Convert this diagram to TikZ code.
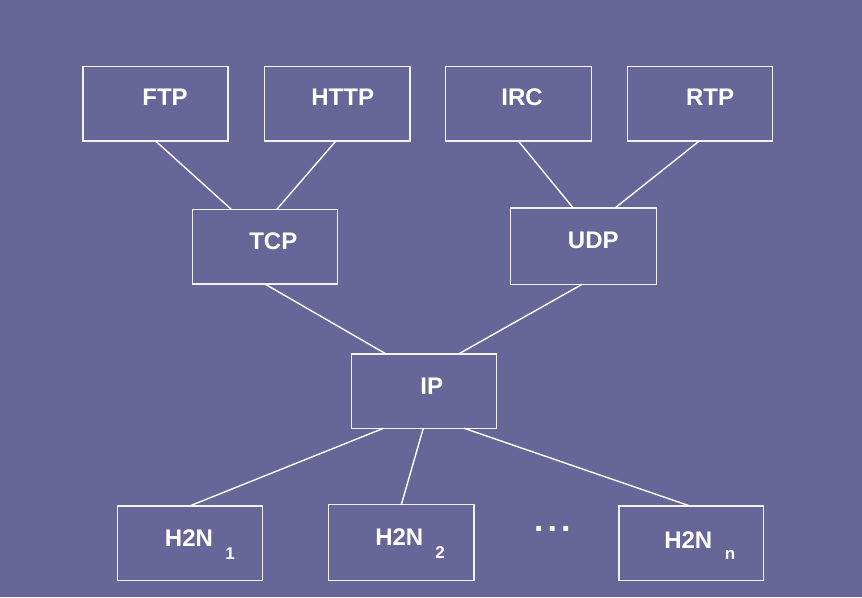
\documentclass[tikz,border=0pt]{standalone}
\usepackage{fontspec}
\setmainfont{Liberation Sans}
\usetikzlibrary{calc}
\definecolor{bgc}{HTML}{666699}
\definecolor{boxc}{HTML}{F2F2F2}
\begin{document}
\begin{tikzpicture}[x=1pt,y=-1pt,
  box/.style={draw=boxc,line width=1.5pt,minimum width=#1,minimum height=74.5pt,inner sep=0pt,outer sep=0pt},
  box/.default=145pt,
  lbl/.style={text=white,font=\fontsize{24}{28}\selectfont\bfseries,inner sep=0pt},
  sub/.style={text=white,font=\fontsize{17}{20}\selectfont\bfseries,inner sep=0pt},
  con/.style={draw=white,line width=1.4pt}]
\fill[bgc] (0,0) rectangle (862,597);
\useasboundingbox (0,0) rectangle (862,597);
% boxes
\node[box] (ftp) at (155.5,103.7) {};
\node[box=145.3pt] (http) at (337.3,103.7) {};
\node[box=146pt] (irc) at (518.3,103.7) {};
\node[box=145.4pt] (rtp) at (700,103.7) {};
\node[box=145.4pt] (tcp) at (265,246.8) {};
\node[box=146.4pt,minimum height=76.3pt] (udp) at (583.5,246.2) {};
\node[box=144.6pt] (ip) at (424,391) {};
\node[box] (h1) at (190.2,543) {};
\node[box=145.3pt,minimum height=76pt] (h2) at (401.3,542.7) {};
\node[box=144.7pt] (hn) at (691.3,543.2) {};
% labels
\node[lbl] (ftpt) at (165,97.7) {FTP};
\node[lbl] (httpt) at (342.7,97.7) {HTTP};
\node[lbl] (irct) at (522,97.7) {IRC};
\node[lbl] (rtpt) at (710,97.7) {RTP};
\node[lbl] (tcpt) at (273.3,241.7) {TCP};
\node[lbl] (udpt) at (593.3,240) {UDP};
\node[lbl] (ipt) at (431.7,386) {IP};
\node[lbl] (h1t) at (189,537.7) {H2N};
\node[sub] (h1s) at (230,553.3) {1};
\node[lbl] (h2t) at (399.3,536.7) {H2N};
\node[sub] (h2s) at (440,553) {2};
\node[lbl] (hnt) at (688.3,540) {H2N};
\node[sub] (hns) at (730,555) {n};
\node[text=white,font=\fontsize{34}{36}\selectfont\bfseries,inner sep=0pt,anchor=base] (dots) at (552.3,531) {.\kern4pt.\kern4pt.};
% connectors
\draw[con] (ftp.south) -- ($(tcp.north west)!0.27!(tcp.north east)$);
\draw[con] ($(http.south west)!0.49!(http.south east)$) -- ($(tcp.north west)!0.58!(tcp.north east)$);
\draw[con] (irc.south) -- ($(udp.north west)!0.43!(udp.north east)$);
\draw[con] ($(rtp.south west)!0.495!(rtp.south east)$) -- ($(udp.north west)!0.715!(udp.north east)$);
\draw[con] (tcp.south) -- ($(ip.north west)!0.235!(ip.north east)$);
\draw[con] ($(udp.south west)!0.49!(udp.south east)$) -- ($(ip.north west)!0.742!(ip.north east)$);
\draw[con] ($(ip.south west)!0.22!(ip.south east)$) -- (h1.north);
\draw[con] ($(ip.south west)!0.495!(ip.south east)$) -- (h2.north);
\draw[con] ($(ip.south west)!0.777!(ip.south east)$) -- ($(hn.north west)!0.49!(hn.north east)$);
\end{tikzpicture}
\end{document}
